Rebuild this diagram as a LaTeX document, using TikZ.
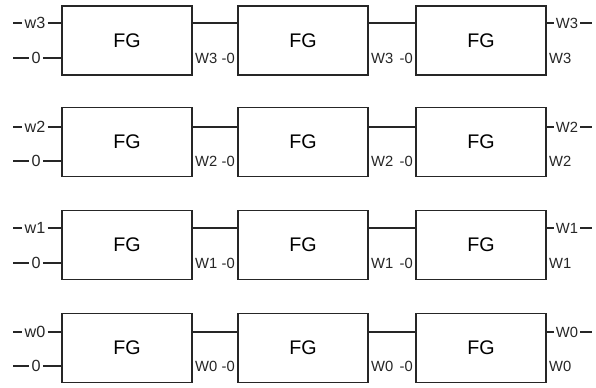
\documentclass[tikz,border=0pt]{standalone}
\usepackage{fontspec}
\setmainfont{Liberation Sans}

\begin{document}
\begin{tikzpicture}[x=.25mm,y=-.25mm,line width=1.1pt,draw=black!85,
  fgbox/.style={draw,minimum width=32.5mm,minimum height=17.25mm,inner sep=0pt,font=\fontsize{14}{16}\selectfont},
  pinlbl/.style={inner sep=.4mm,text=black!85,font=\fontsize{10.5}{12}\selectfont},
  inlbl/.style={pinlbl,font=\fontsize{11.5}{13}\selectfont},
  wlbl/.style={pinlbl,anchor=west,fill=white}]
\path[use as bounding box] (0,0) rectangle (596,387);
% row w3
\node[fgbox] (fg31) at (127,40.5) {FG};
\node[fgbox] (fg32) at (303,40.5) {FG};
\node[fgbox] (fg33) at (481,40.5) {FG};
\draw (fg31.east |- 0,23) -- (fg32.west |- 0,23);
\draw (fg32.east |- 0,23) -- (fg33.west |- 0,23);
\node[inlbl] (w3) at (35,23) {w3};
\coordinate (w3a) at (13,23);
\draw (w3a) -- (w3.west) (w3.east) -- (fg31.west |- w3);
\node[inlbl] (z3) at (36,58) {0};
\coordinate (z3a) at (13,58);
\draw (z3a) -- (z3.west) (z3.east) -- (fg31.west |- z3);
\node[wlbl] (w31) at (fg31.east |- 0,58) {W3};
\node[pinlbl,anchor=east] (z32) at (fg32.west |- 0,58) {-0};
\node[wlbl] (w32) at (fg32.east |- 0,58) {W3};
\node[pinlbl,anchor=east] (z33) at (fg33.west |- 0,58) {-0};
\node[wlbl] (w33) at (fg33.east |- 0,58) {W3};
\node[pinlbl] (o3) at (567,23) {W3};
\coordinate (o3a) at (592,23);
\draw (fg33.east |- o3) -- (o3.west) (o3.east) -- (o3a);
% row w2
\node[fgbox] (fg21) at (127,142) {FG};
\node[fgbox] (fg22) at (303,142) {FG};
\node[fgbox] (fg23) at (481,142) {FG};
\draw (fg21.east |- 0,127) -- (fg22.west |- 0,127);
\draw (fg22.east |- 0,127) -- (fg23.west |- 0,127);
\node[inlbl] (w2) at (35,127) {w2};
\coordinate (w2a) at (13,127);
\draw (w2a) -- (w2.west) (w2.east) -- (fg21.west |- w2);
\node[inlbl] (z2) at (36,161) {0};
\coordinate (z2a) at (13,161);
\draw (z2a) -- (z2.west) (z2.east) -- (fg21.west |- z2);
\node[wlbl] (w21) at (fg21.east |- 0,161) {W2};
\node[pinlbl,anchor=east] (z22) at (fg22.west |- 0,161) {-0};
\node[wlbl] (w22) at (fg22.east |- 0,161) {W2};
\node[pinlbl,anchor=east] (z23) at (fg23.west |- 0,161) {-0};
\node[wlbl] (w23) at (fg23.east |- 0,161) {W2};
\node[pinlbl] (o2) at (567,127) {W2};
\coordinate (o2a) at (592,127);
\draw (fg23.east |- o2) -- (o2.west) (o2.east) -- (o2a);
% row w1
\node[fgbox] (fg11) at (127,245) {FG};
\node[fgbox] (fg12) at (303,245) {FG};
\node[fgbox] (fg13) at (481,245) {FG};
\draw (fg11.east |- 0,228) -- (fg12.west |- 0,228);
\draw (fg12.east |- 0,228) -- (fg13.west |- 0,228);
\node[inlbl] (w1) at (35,228) {w1};
\coordinate (w1a) at (13,228);
\draw (w1a) -- (w1.west) (w1.east) -- (fg11.west |- w1);
\node[inlbl] (z1) at (36,263) {0};
\coordinate (z1a) at (13,263);
\draw (z1a) -- (z1.west) (z1.east) -- (fg11.west |- z1);
\node[wlbl] (w11) at (fg11.east |- 0,263) {W1};
\node[pinlbl,anchor=east] (z12) at (fg12.west |- 0,263) {-0};
\node[wlbl] (w12) at (fg12.east |- 0,263) {W1};
\node[pinlbl,anchor=east] (z13) at (fg13.west |- 0,263) {-0};
\node[wlbl] (w13) at (fg13.east |- 0,263) {W1};
\node[pinlbl] (o1) at (567,228) {W1};
\coordinate (o1a) at (592,228);
\draw (fg13.east |- o1) -- (o1.west) (o1.east) -- (o1a);
% row w0
\node[fgbox] (fg01) at (127,348) {FG};
\node[fgbox] (fg02) at (303,348) {FG};
\node[fgbox] (fg03) at (481,348) {FG};
\draw (fg01.east |- 0,332) -- (fg02.west |- 0,332);
\draw (fg02.east |- 0,332) -- (fg03.west |- 0,332);
\node[inlbl] (w0) at (35,332) {w0};
\coordinate (w0a) at (13,332);
\draw (w0a) -- (w0.west) (w0.east) -- (fg01.west |- w0);
\node[inlbl] (z0) at (36,366) {0};
\coordinate (z0a) at (13,366);
\draw (z0a) -- (z0.west) (z0.east) -- (fg01.west |- z0);
\node[wlbl] (w01) at (fg01.east |- 0,366) {W0};
\node[pinlbl,anchor=east] (z02) at (fg02.west |- 0,366) {-0};
\node[wlbl] (w02) at (fg02.east |- 0,366) {W0};
\node[pinlbl,anchor=east] (z03) at (fg03.west |- 0,366) {-0};
\node[wlbl] (w03) at (fg03.east |- 0,366) {W0};
\node[pinlbl] (o0) at (567,332) {W0};
\coordinate (o0a) at (592,332);
\draw (fg03.east |- o0) -- (o0.west) (o0.east) -- (o0a);
\end{tikzpicture}
\end{document}
